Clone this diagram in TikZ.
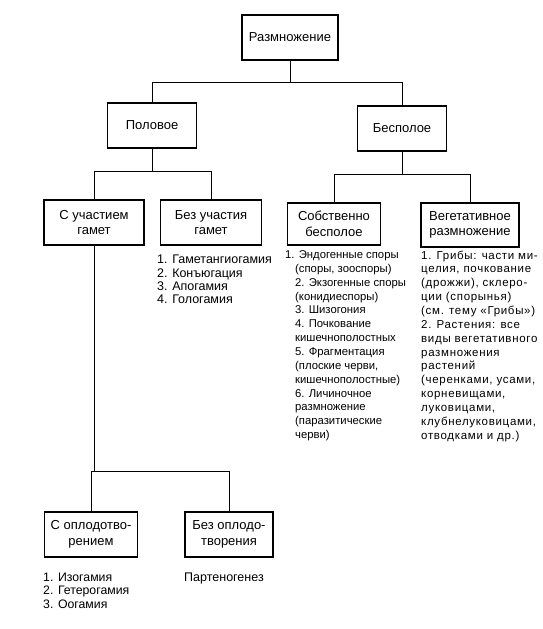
\documentclass[tikz,border=0pt]{standalone}
\usepackage{fontspec}
\setmainfont{Liberation Sans}
\newfontfamily\widesans[LetterSpace=6]{Liberation Sans}
\begin{document}
\begin{tikzpicture}[x=1pt,y=-1pt,
  box/.style={draw, line width=1.5pt, align=center, inner sep=0pt, minimum height=45pt, font=\fontsize{13}{15.5}\selectfont},
  conn/.style={line width=0.8pt},
  lst/.style={align=left, anchor=north west, inner sep=0pt}]
\useasboundingbox (0,0) rectangle (543,629);
% boxes
\node[box, minimum width=96pt] (razm) at (290,37.5) {Размножение};
\node[box, minimum width=89pt] (polovoe) at (152,125.5) {Половое};
\node[box, minimum width=89pt] (bespoloe) at (402,128.5) {Бесполое};
\node[box, minimum width=100pt] (suchast) at (94,222.5) {С участием\\гамет};
\node[box, minimum width=101pt] (bezuch) at (211,222.5) {Без участия\\гамет};
\node[box, minimum width=93pt, minimum height=42pt] (sobstv) at (334,224) {Собственно\\бесполое};
\node[box, minimum width=98pt, minimum height=44pt] (veget) at (470,225) {Вегетативное\\размножение};
\node[box, minimum width=93pt] (sopl) at (91,534.5) {С оплодотво-\\рением};
\node[box, minimum width=88pt] (bezopl) at (229,534.5) {Без оплодо-\\творения};
% junction levels
\coordinate (h1) at (0,82);
\coordinate (h2) at (0,171);
\coordinate (h3) at (0,174);
\coordinate (h4) at (0,471);
% connectors
\draw[conn] (razm.south) -- (razm.south |- h1) -| (polovoe.north);
\draw[conn] (razm.south |- h1) -| (bespoloe.north);
\draw[conn] (polovoe.south) -- (polovoe.south |- h2) -| (suchast.north);
\draw[conn] (polovoe.south |- h2) -| (bezuch.north);
\draw[conn] (bespoloe.south) -- (bespoloe.south |- h3) -| (sobstv.north);
\draw[conn] (bespoloe.south |- h3) -| (veget.north);
\draw[conn] (suchast.south) -- (suchast.south |- h4) -| (sopl.north);
\draw[conn] (suchast.south |- h4) -| (bezopl.north);
% lists
\node[lst, font=\fontsize{12.5}{13.2}\selectfont] (lbezuch) at (157,255) {1. Гаметангиогамия\\2. Конъюгация\\3. Апогамия\\4. Гологамия};
\node[lst, font=\fontsize{11.3}{13.85}\selectfont] (lsobstv) at (295,250.5) {\hspace*{-10pt}1. Эндогенные споры\\(споры, зооспоры)\\2. Экзогенные споры\\(конидиеспоры)\\3. Шизогония\\4. Почкование\\кишечнополостных\\5. Фрагментация\\(плоские черви,\\кишечнополостные)\\6. Личиночное\\размножение\\(паразитические\\черви)};
\node[lst, font=\widesans\fontsize{11.5}{13.85}\selectfont] (lveget) at (421,250.5) {1. Грибы: части ми-\\целия, почкование\\(дрожжи), склеро-\\ции (спорынья)\\(см. тему «Грибы»)\\2. Растения: все\\виды вегетативного\\размножения\\растений\\(черенками, усами,\\корневищами,\\луковицами,\\клубнелуковицами,\\отводками и др.)};
\node[lst, font=\fontsize{12.3}{13.2}\selectfont] (lsopl) at (43,573) {1. Изогамия\\2. Гетерогамия\\3. Оогамия};
\node[lst, font=\fontsize{12.5}{13.2}\selectfont] (lbezopl) at (184,573) {Партеногенез};
\end{tikzpicture}
\end{document}
